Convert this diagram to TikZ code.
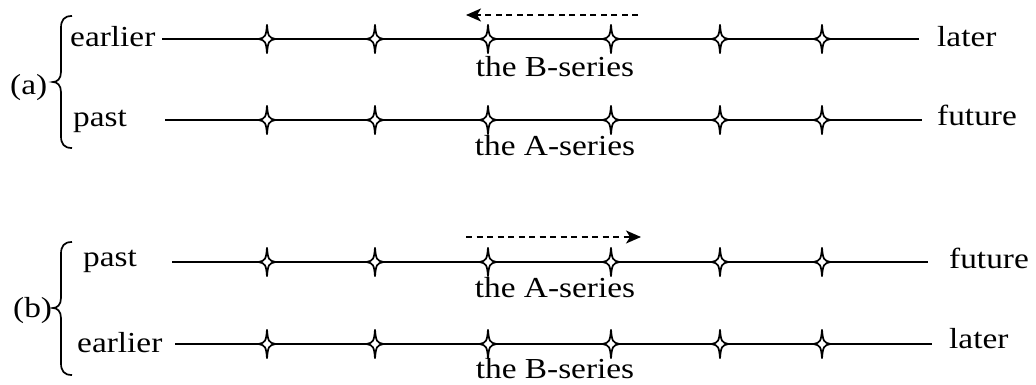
\documentclass[tikz,border=0pt]{standalone}
\usepackage{fontspec}
\setmainfont{Liberation Serif}[FakeStretch=1.15]
\usetikzlibrary{arrows.meta}
\tikzset{
  x=1pt,y=-1pt,
  tline/.style={line width=2pt},
  lbl/.style={anchor=base west,inner sep=0pt,font=\fontsize{29}{33}\selectfont},
  ser/.style={anchor=base,inner sep=0pt,font=\fontsize{29}{33}\selectfont},
  brc/.style={line width=1.7pt},
  darr/.style={line width=1.7pt,dash pattern=on 6pt off 4.5pt,-{Stealth[length=15pt,width=13pt,inset=4pt]}},
  pics/tstar/.style={code={
    \draw[line width=1.7pt,fill=white] (0,-14.5) .. controls (0.9,-2.8) and (1.8,-1.2) .. (8.5,0)
      .. controls (1.8,1.2) and (0.9,2.8) .. (0,14.5)
      .. controls (-0.9,2.8) and (-1.8,1.2) .. (-8.5,0)
      .. controls (-1.8,-1.2) and (-0.9,-2.8) .. cycle;
  }}
}
\begin{document}
\begin{tikzpicture}
\useasboundingbox (0,0) rectangle (1036,385);
% lines
\coordinate (l1a) at (162,39); \coordinate (l1b) at (919,39);
\coordinate (l2a) at (165,120); \coordinate (l2b) at (922,120);
\coordinate (l3a) at (172,262); \coordinate (l3b) at (928,262);
\coordinate (l4a) at (175,344); \coordinate (l4b) at (932,344);
\draw[tline] (l1a) -- (l1b);
\draw[tline] (l2a) -- (l2b);
\draw[tline] (l3a) -- (l3b);
\draw[tline] (l4a) -- (l4b);
\foreach \yy in {39,120,262,344}{
  \foreach \xx in {267,375,488,611,720,822}{
    \pic at (\xx,\yy) {tstar};
  }
}
% labels (a)
\node[lbl] (ea) at (70,47) {earlier};
\node[lbl] (la) at (937,47) {later};
\node[lbl] (pa) at (73,127) {past};
\node[lbl] (fa) at (937,126) {future};
\node[ser] (bsa) at (555,77) {the B-series};
\node[ser] (asa) at (555,155) {the A-series};
\node[lbl] (a) at (10,95) {(a)};
% labels (b)
\node[lbl] (pb) at (83,266) {past};
\node[lbl] (eb) at (77,352) {earlier};
\node[lbl] (fb) at (949,268) {future};
\node[lbl] (lb) at (949,348) {later};
\node[ser] (asb) at (555,297) {the A-series};
\node[ser] (bsb) at (555,378) {the B-series};
\node[lbl] (b) at (13,317) {(b)};
% braces
\draw[brc] (72,16) .. controls (64,16) and (61,20) .. (61,28) -- (61,72)
  .. controls (61,79) and (57,82) .. (53,82)
  .. controls (57,82) and (61,85) .. (61,92) -- (61,136)
  .. controls (61,144) and (64,148) .. (72,148);
\draw[brc] (72,242) .. controls (64,242) and (61,246) .. (61,254) -- (61,298)
  .. controls (61,305) and (57,308) .. (53,308)
  .. controls (57,308) and (61,311) .. (61,318) -- (61,363)
  .. controls (61,371) and (64,375) .. (72,375);
% dashed arrows
\coordinate (d1s) at (638,15); \coordinate (d1e) at (466,15);
\coordinate (d2s) at (466,237); \coordinate (d2e) at (641,237);
\draw[darr] (d1s) -- (d1e);
\draw[darr] (d2s) -- (d2e);
\end{tikzpicture}
\end{document}
